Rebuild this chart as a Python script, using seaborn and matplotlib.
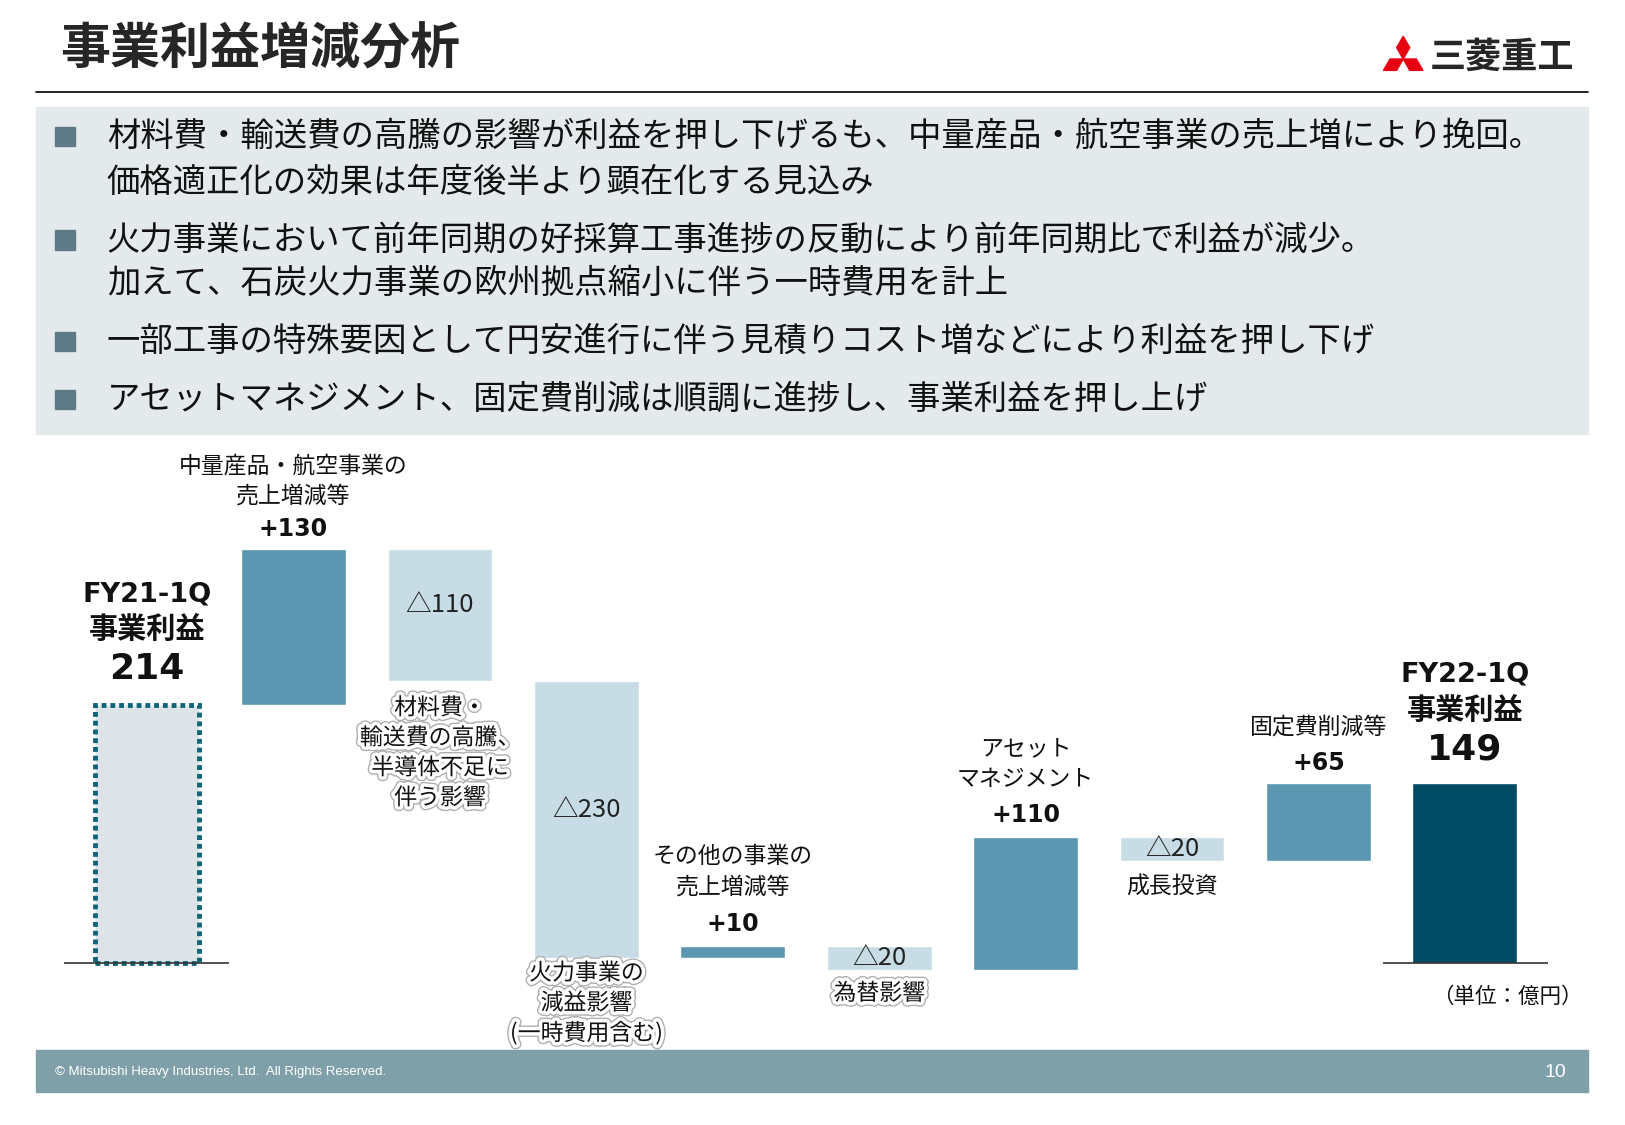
import numpy as np
import pandas as pd
import matplotlib
matplotlib.use("Agg")
import matplotlib.pyplot as plt
import matplotlib.patheffects as pe
from matplotlib.patches import Rectangle, Polygon
from matplotlib.lines import Line2D
import seaborn as sns

# --- data -------------------------------------------------------------
items = ["FY21-1Q", "中量産品・航空事業", "材料費・輸送費", "火力事業", "その他の事業",
         "為替影響", "アセットマネジメント", "成長投資", "固定費削減等", "FY22-1Q"]
deltas = [214, 130, -110, -230, 10, -20, 110, -20, 65, 149]
kinds = ["start", "up", "down", "down", "up", "down", "up", "down", "up", "end"]
value_labels = ["214", "+130", "△110", "△230", "+10", "△20", "+110", "△20", "+65", "149"]

bullets = [
    ["材料費・輸送費の高騰の影響が利益を押し下げるも、中量産品・航空事業の売上増により挽回。",
     "価格適正化の効果は年度後半より顕在化する見込み"],
    ["火力事業において前年同期の好採算工事進捗の反動により前年同期比で利益が減少。",
     "加えて、石炭火力事業の欧州拠点縮小に伴う一時費用を計上"],
    ["一部工事の特殊要因として円安進行に伴う見積りコスト増などにより利益を押し下げ"],
    ["アセットマネジメント、固定費削減は順調に進捗し、事業利益を押し上げ"],
]

colors = {"start": "#DDE4E8", "up": "#5B97B1", "down": "#C8DCE5", "end": "#004A63"}

# waterfall bottoms / heights
bottoms, heights = [], []
running = 0
for d, k in zip(deltas, kinds):
    if k == "start":
        bottoms.append(0); heights.append(d); running = d
    elif k == "up":
        bottoms.append(running); heights.append(d); running += d
    elif k == "down":
        running += d; bottoms.append(running); heights.append(-d)
    else:
        bottoms.append(0); heights.append(d)
tops = [b + h for b, h in zip(bottoms, heights)]

df = pd.DataFrame({"item": items, "height": heights})

sns.set_theme(style="white")
plt.rcParams["font.family"] = ["Noto Sans CJK JP", "DejaVu Sans"]

# reference measured in a ~1569 x 1087 frame
W, H = 1568.6, 1087.0
def fx(x):
    return x / W
def fy(y):
    return 1 - y / H

fig = plt.figure(figsize=(16.25, 11.25), dpi=100)
fig.patch.set_facecolor("white")

# header
fig.text(fx(58), fy(48), "事業利益増減分析", fontsize=36, fontweight="bold", va="center", ha="left")
fig.add_artist(Line2D([fx(35), fx(1533)], [fy(89), fy(89)], color="black", lw=1.2))

# logo
cx, cy, L = 1354.5, 57.0, 22.0
w = 0.289 * L
for ang in [0, 120, 240]:
    a = np.deg2rad(ang)
    pts = np.array([[0, 0], [w, -L / 2], [0, -L], [-w, -L / 2]])
    rot = np.array([[np.cos(a), -np.sin(a)], [np.sin(a), np.cos(a)]])
    pts = pts @ rot.T + [cx, cy]
    fig.add_artist(Polygon([(fx(px), fy(py)) for px, py in pts], closed=True,
                           color="#E60012", transform=fig.transFigure))
fig.text(fx(1380), fy(55), "三菱重工", fontsize=26, fontweight="bold", va="center", ha="left")

# bullet box
fig.add_artist(Rectangle((fx(35), fy(419)), fx(1533) - fx(35), (419 - 103) / H,
                         color="#E4EAEC", transform=fig.transFigure, zorder=0))
line_y = [[132, 176], [232, 274], [330], [386]]
for lines, ys in zip(bullets, line_y):
    fig.add_artist(Rectangle((fx(53), fy(ys[0] + 9.5)), 19 / W, 19 / H,
                             color="#5E7A86", transform=fig.transFigure))
    for t, y in zip(lines, ys):
        fig.text(fx(103), fy(y), t, fontsize=24, va="center", ha="left", color="#111111")

# footer
fig.add_artist(Rectangle((fx(35), fy(1055)), fx(1533) - fx(35), 40 / H,
                         color="#7F9FA9", transform=fig.transFigure, zorder=0))
fig.text(fx(53), fy(1036), "© Mitsubishi Heavy Industries, Ltd.  All Rights Reserved.",
         fontsize=9.5, color="white", va="center", ha="left", family="Liberation Sans")
fig.text(fx(1512), fy(1036), "10", fontsize=14, color="white", va="center", ha="right",
         family="Liberation Sans")

# --- waterfall chart --------------------------------------------------
pitch = (1414 - 142) / 9.0
px_per_unit = 1.162
ylo, yhi = -100, 400
left = 142 - 0.8 * pitch
right = 1414 + 0.8 * pitch
ax = fig.add_axes([fx(left), 1 - (930 - ylo * px_per_unit) / H,
                   (right - left) / W, (yhi - ylo) * px_per_unit / H])
sns.barplot(data=df, x="item", y="height", hue="item", legend=False,
            palette=[colors[k] for k in kinds], saturation=1, width=0.715, ax=ax)
for p, b in zip(ax.patches, bottoms):
    p.set_y(b)
start_bar = ax.patches[0]
start_bar.set_edgecolor("#0F6478")
start_bar.set_linewidth(3.5)
start_bar.set_linestyle((0, (1, 0.8)))
ax.set_xlim(-0.8, 9.8)
ax.set_ylim(ylo, yhi)
ax.axis("off")

ax.hlines(0, -0.566, 0.559, color="#333333", lw=1.2)
ax.hlines(0, 8.44, 9.566, color="#333333", lw=1.2)

halo = [pe.Stroke(linewidth=7, foreground="#b0b0b0"), pe.Stroke(linewidth=5, foreground="white"), pe.Normal()]

def put(i, yval, dpx, text, **kw):
    ax.annotate(text, (i, yval), xytext=(0, -dpx * 0.745), textcoords="offset points",
                ha="center", va="center", **kw)

lab = dict(fontsize=16.5, color="#111111")
num = dict(fontsize=17, fontweight="bold", family="DejaVu Sans", color="#111111")
tri = dict(fontsize=18.5, color="#222222")

# start / end totals
for i in [0, 9]:
    put(i, tops[i], -33 if i == 9 else -35, value_labels[i], fontsize=26, fontweight="bold",
        family="DejaVu Sans", color="#111111")
put(0, tops[0], -107, "FY21-1Q", fontsize=19.5, fontweight="bold", family="DejaVu Sans", color="#111111")
put(0, tops[0], -74, "事業利益", fontsize=21, fontweight="bold", color="#111111")
put(9, tops[9], -105, "FY22-1Q", fontsize=19.5, fontweight="bold", family="DejaVu Sans", color="#111111")
put(9, tops[9], -71, "事業利益", fontsize=21, fontweight="bold", color="#111111")

# positive deltas: label above
put(1, tops[1], -19, value_labels[1], **num)
put(1, tops[1], -80, "中量産品・航空事業の", **lab)
put(1, tops[1], -51, "売上増減等", **lab)
put(4, tops[4], -21, value_labels[4], **num)
put(4, tops[4], -86, "その他の事業の", **lab)
put(4, tops[4], -57, "売上増減等", **lab)
put(6, tops[6], -22, value_labels[6], **num)
put(6, tops[6], -86, "アセット", **lab)
put(6, tops[6], -56, "マネジメント", **lab)
put(8, tops[8], -20, value_labels[8], **num)
put(8, tops[8], -54, "固定費削減等", **lab)

# negative deltas: value inside, label below
put(2, tops[2], 54, value_labels[2], **tri)
for k, t in enumerate(["材料費・", "輸送費の高騰、", "半導体不足に", "伴う影響"]):
    put(2, bottoms[2], 26 + 29 * k, t, path_effects=halo, **lab)
put(3, tops[3], 125, value_labels[3], **tri)
for k, t in enumerate(["火力事業の", "減益影響", "(一時費用含む)"]):
    put(3, bottoms[3], 15 + 29 * k, t, path_effects=halo, **lab)
put(5, tops[5], 12, value_labels[5], **tri)
put(5, bottoms[5], 23, "為替影響", path_effects=halo, **lab)
put(7, tops[7], 11, value_labels[7], **tri)
put(7, bottoms[7], 25, "成長投資", **lab)

fig.text(fx(1455), fy(963), "（単位：億円）", fontsize=15.5, va="center", ha="center", color="#111111")

fig.savefig("out.png", dpi=100, facecolor="white")
